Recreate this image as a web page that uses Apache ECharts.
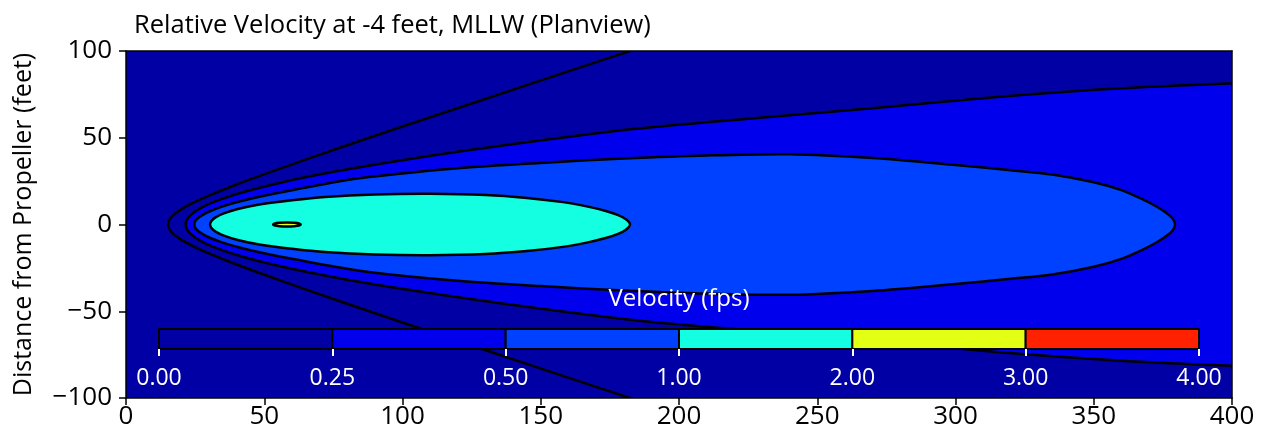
<!DOCTYPE html>
<html><head><meta charset="utf-8">
<script src="https://cdn.jsdelivr.net/npm/echarts@6/dist/echarts.min.js"></script>
<style>html,body{margin:0;padding:0;background:#fff}#c{width:1267px;height:445px}</style>
</head><body><div id="c"></div>
<script>
const FONT = "'Open Sans', 'Noto Sans', sans-serif";
const titleText = 'Relative Velocity at -4 feet, MLLW (Planview)';
const yAxisName = 'Distance from Propeller (feet)';
const colorbarName = 'Velocity (fps)';
const colorbarTicks = ['0.00', '0.25', '0.50', '1.00', '2.00', '3.00', '4.00'];
const levelColors = ['#0000A4', '#0000EC', '#0040FF', '#14FFE2', '#E2FF14', '#FF2100'];

// whole plotting domain (lowest band)
const domain = [[0, -100], [400, -100], [400, 100], [0, 100]];
// outer contour line (inside lowest band)
const contourOuter = [[182.3,100],[160.2,88.4],[130.2,72.5],[100.2,56.6],[75.2,43.1],[55.2,31.9],[40.2,23.2],[30.2,16.8],[24.2,12.4],[20.2,9.0],[17.7,6.2],[16.2,3.9],[15.5,2.1],[15.2,0],[15.5,-2.1],[16.2,-3.9],[17.7,-6.2],[20.2,-9.0],[24.2,-12.4],[30.2,-16.8],[40.2,-23.2],[55.2,-31.9],[75.2,-43.1],[100.2,-56.6],[130.2,-72.5],[160.2,-88.4],[182.3,-100]];
// 0.25 fps contour (open to the right edge)
const contour025 = [[430,83],[400,81.4],[360,78.5],[315,73.5],[270,67],[225,61],[181.6,54.7],[131.6,44.5],[101.6,37.5],[76.6,30.8],[56.6,24.4],[41.6,18.3],[31.6,12.9],[26.6,9.1],[23.6,5.7],[22.1,2.9],[21.6,0],[22.1,-2.9],[23.6,-5.7],[26.6,-9.1],[31.6,-12.9],[41.6,-18.3],[56.6,-24.4],[76.6,-30.8],[101.6,-37.5],[131.6,-44.5],[181.6,-54.7],[225,-61],[270,-67],[315,-73.5],[360,-78.5],[400,-81.4],[430,-83]];
// 0.50 fps contour
const contour050 = [[24.7,0],[25.2,2.3],[26.7,4.5],[29.7,7.2],[34.7,10.3],[40.7,13.1],[48.2,16],[60,19.8],[84.4,26.6],[120,32.4],[150,35.5],[180,38],[210,39.8],[240,40.5],[270,38.3],[300,34.3],[320,31.3],[335,28.8],[350,24.3],[360,19.8],[367,15],[372.5,10.5],[376.3,6.6],[378.6,3.3],[379.4,0],[378.6,-3.3],[376.3,-6.6],[372.5,-10.5],[367,-15],[360,-19.8],[350,-24.3],[335,-28.8],[320,-31.3],[300,-34.3],[270,-38.3],[240,-40.5],[210,-39.8],[180,-38],[150,-35.5],[120,-32.4],[84.4,-26.6],[60,-19.8],[48.2,-16],[40.7,-13.1],[34.7,-10.3],[29.7,-7.2],[26.7,-4.5],[25.2,-2.3]];
// 1.00 fps contour
const contour100 = [[30.4,0],[30.9,2.0],[32.4,4.1],[35.4,6.4],[40.4,8.9],[48.2,11.5],[60,14],[72,15.9],[90,17.3],[110,17.7],[130,17],[145,15.3],[158,12.9],[167,10.3],[173.5,7.8],[178,5.4],[180.8,3],[182.3,0],[180.8,-3],[178,-5.4],[173.5,-7.8],[167,-10.3],[158,-12.9],[145,-15.3],[130,-17],[110,-17.7],[90,-17.3],[72,-15.9],[60,-14],[48.2,-11.5],[40.4,-8.9],[35.4,-6.4],[32.4,-4.1],[30.9,-2.0]];
// 2.00 fps contour
const contour200 = [[53.2,0],[53.8,0.6],[55.5,0.95],[58.2,1.1],[60.9,0.95],[62.6,0.6],[63.2,0],[62.6,-0.6],[60.9,-0.95],[58.2,-1.1],[55.5,-0.95],[53.8,-0.6]];

const layers = [
  { pts: domain, fill: levelColors[0], stroke: null, kind: 'polygon', smooth: 0 },
  { pts: contourOuter, fill: null, stroke: '#000', kind: 'polyline', smooth: 0.3 },
  { pts: contour025, fill: levelColors[1], stroke: '#000', kind: 'polygon', smooth: 0.3 },
  { pts: contour050, fill: levelColors[2], stroke: '#000', kind: 'polygon', smooth: 0.3 },
  { pts: contour100, fill: levelColors[3], stroke: '#000', kind: 'polygon', smooth: 0.3 },
  { pts: contour200, fill: levelColors[4], stroke: '#000', kind: 'polygon', smooth: 0.3 }
];

const chart = echarts.init(document.getElementById('c'), null, { renderer: 'canvas' });
const blackLine = { color: '#000', width: 1.5 };
const minusFmt = v => (v < 0 ? '\u2212' + Math.abs(v) : String(v));

chart.setOption({
  animation: false,
  backgroundColor: '#fff',
  textStyle: { fontFamily: FONT },
  title: [{
    text: titleText, left: 134, top: 13, padding: 0,
    textStyle: { fontSize: 25.5, fontWeight: 'normal', color: '#000', fontFamily: FONT }
  }],
  grid: [
    { left: 126, top: 51, width: 1106, height: 347 },
    { left: 159, top: 329, width: 1040, height: 20 }
  ],
  xAxis: [
    { gridIndex: 0, type: 'value', min: 0, max: 400, interval: 50, z: 10,
      axisLine: { show: true, onZero: false, lineStyle: blackLine },
      axisTick: { show: true, length: 7, lineStyle: blackLine },
      axisLabel: { fontSize: 26, color: '#000', margin: 6, fontFamily: FONT },
      splitLine: { show: false } },
    { gridIndex: 0, type: 'value', min: 0, max: 400, position: 'top', z: 10,
      axisLine: { show: true, onZero: false, lineStyle: blackLine },
      axisTick: { show: false }, axisLabel: { show: false }, splitLine: { show: false } },
    { gridIndex: 1, type: 'value', min: 0, max: 6, interval: 1, z: 10,
      axisLine: { show: false, onZero: false },
      axisTick: { show: true, length: 7, lineStyle: { color: '#fff', width: 2 } },
      axisLabel: { fontSize: 23, color: '#fff', margin: 18, fontFamily: FONT,
        formatter: v => colorbarTicks[v] },
      splitLine: { show: false } },
    { gridIndex: 1, type: 'value', min: 0, max: 6, position: 'top', z: 10,
      name: colorbarName, nameLocation: 'middle', nameGap: 18,
      nameTextStyle: { color: '#fff', fontSize: 24, fontFamily: FONT },
      axisLine: { show: false, onZero: false }, axisTick: { show: false }, axisLabel: { show: false },
      splitLine: { show: false } }
  ],
  yAxis: [
    { gridIndex: 0, type: 'value', min: -100, max: 100, interval: 50, z: 10,
      name: yAxisName, nameLocation: 'middle', nameGap: 90,
      nameTextStyle: { fontSize: 25, color: '#000', fontFamily: FONT },
      axisLine: { show: true, onZero: false, lineStyle: blackLine },
      axisTick: { show: true, length: 7, lineStyle: blackLine },
      axisLabel: { fontSize: 26, color: '#000', margin: 14, formatter: minusFmt, fontFamily: FONT },
      splitLine: { show: false } },
    { gridIndex: 0, type: 'value', min: -100, max: 100, position: 'right', z: 10,
      axisLine: { show: true, onZero: false, lineStyle: blackLine },
      axisTick: { show: false }, axisLabel: { show: false }, splitLine: { show: false } },
    { gridIndex: 1, type: 'value', min: 0, max: 1, show: false }
  ],
  series: [
    { type: 'custom', xAxisIndex: 0, yAxisIndex: 0, clip: true, z: 2,
      data: layers.map((l, i) => [i, 0]),
      renderItem: (params, api) => {
        const l = layers[params.dataIndex];
        const points = l.pts.map(p => api.coord(p));
        return {
          type: l.kind,
          shape: { points: points, smooth: l.smooth },
          style: { fill: l.fill || null, stroke: l.stroke || null, lineWidth: 2.5 }
        };
      } },
    { type: 'custom', xAxisIndex: 2, yAxisIndex: 2, z: 5,
      data: levelColors.map((c, i) => [i, 0]),
      renderItem: (params, api) => {
        const i = params.dataIndex;
        const p0 = api.coord([i, 1]);
        const p1 = api.coord([i + 1, 0]);
        return {
          type: 'rect',
          shape: { x: p0[0], y: p0[1], width: p1[0] - p0[0], height: p1[1] - p0[1] },
          style: { fill: levelColors[i], stroke: '#000', lineWidth: 2 }
        };
      } }
  ]
});
</script>
</body></html>
